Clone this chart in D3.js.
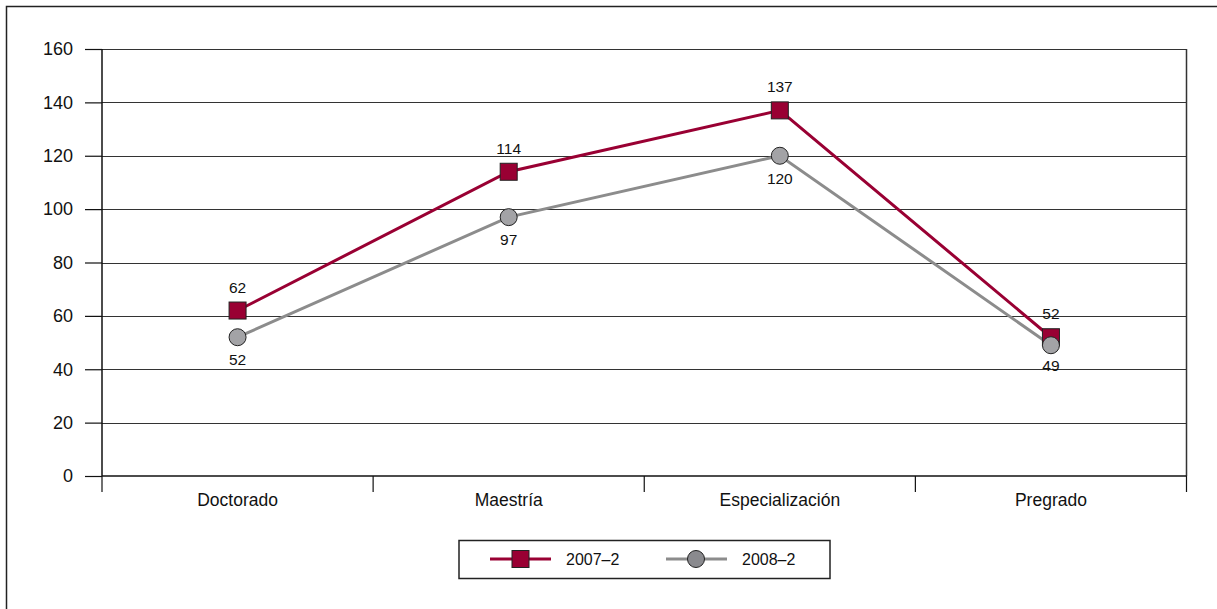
<!DOCTYPE html>
<html><head><meta charset="utf-8">
<script src="https://cdn.jsdelivr.net/npm/d3@7"></script>
<style>
body{margin:0;background:#fff;}
text{font-family:"Liberation Sans","DejaVu Sans",sans-serif;fill:#111;}
</style></head>
<body><svg id="c" width="1217" height="609"></svg>
<script>
const categories = ["Doctorado","Maestría","Especialización","Pregrado"];
const series2007 = [62,114,137,52];
const series2008 = [52,97,120,49];
const seriesNames = ["2007–2","2008–2"];
const yTicks = [0,20,40,60,80,100,120,140,160];

const svg = d3.select("#c");
const red = "#990033", grey = "#8c8c8c", greyFill = "#a3a3a6";
const m = {l:102, r:1186.5, t:49, b:476};

svg.append("rect").attr("x",6.5).attr("y",6.5).attr("width",1240).attr("height",640)
  .attr("fill","none").attr("stroke","#222").attr("stroke-width",1.5);

const x = d3.scaleBand().domain(categories).range([m.l,m.r]);
const y = d3.scaleLinear().domain([0,160]).range([m.b,m.t]);

// gridlines
svg.append("g").selectAll("line").data(yTicks.filter(d=>d>0)).join("line")
  .attr("x1",m.l).attr("x2",m.r).attr("y1",d=>Math.round(y(d))+0.5).attr("y2",d=>Math.round(y(d))+0.5)
  .attr("stroke","#333").attr("stroke-width",1.2);
// right border
svg.append("line").attr("x1",m.r).attr("x2",m.r).attr("y1",m.t).attr("y2",m.b)
  .attr("stroke","#333").attr("stroke-width",1.5);

// y axis
const ya = svg.append("g").attr("transform",`translate(${m.l},0)`)
  .call(d3.axisLeft(y).tickValues(yTicks).tickSize(17).tickPadding(12));
ya.select(".domain").attr("stroke","#111").attr("stroke-width",1.5).attr("d",`M0,${m.t}V${m.b}`);
ya.selectAll(".tick line").attr("stroke","#111").attr("stroke-width",1.2);
ya.selectAll(".tick text").attr("font-size",18).attr("fill","#111")
  .attr("font-family","'Liberation Sans',sans-serif");

// x axis
const xa = svg.append("g").attr("transform",`translate(0,${m.b})`)
  .call(d3.axisBottom(x).tickSize(0).tickPadding(18));
xa.select(".domain").attr("stroke","#111").attr("stroke-width",1.5).attr("d",`M${m.l},0H${m.r}`);
xa.selectAll(".tick text").attr("font-size",17.5).attr("fill","#111")
  .attr("font-family","'Liberation Sans',sans-serif");
const bounds = categories.map(c=>x(c)).concat([m.r]);
svg.append("g").selectAll("line").data(bounds).join("line")
  .attr("x1",d=>d).attr("x2",d=>d).attr("y1",m.b).attr("y2",m.b+16)
  .attr("stroke","#111").attr("stroke-width",1.2);

const cx = c => x(c)+x.bandwidth()/2;
const line = d3.line().x((d,i)=>cx(categories[i])).y(d=>y(d));

svg.append("path").datum(series2008).attr("d",line).attr("fill","none").attr("stroke",grey).attr("stroke-width",3);
svg.append("path").datum(series2007).attr("d",line).attr("fill","none").attr("stroke",red).attr("stroke-width",3);

// squares 2007
svg.append("g").selectAll("rect").data(series2007).join("rect")
  .attr("x",(d,i)=>cx(categories[i])-8.5).attr("y",d=>y(d)-8.5).attr("width",17).attr("height",17)
  .attr("fill",red).attr("stroke","#222").attr("stroke-width",1);
// circles 2008
svg.append("g").selectAll("circle").data(series2008).join("circle")
  .attr("cx",(d,i)=>cx(categories[i])).attr("cy",d=>y(d)).attr("r",8.5)
  .attr("fill",greyFill).attr("stroke","#222").attr("stroke-width",1);

// value labels
svg.append("g").selectAll("text").data(series2007).join("text")
  .attr("x",(d,i)=>cx(categories[i])).attr("y",d=>y(d)-18).attr("text-anchor","middle")
  .attr("font-size",15.5).text(d=>d);
svg.append("g").selectAll("text").data(series2008).join("text")
  .attr("x",(d,i)=>cx(categories[i])).attr("y",(d,i)=>y(d)+(i===3?26:28)).attr("text-anchor","middle")
  .attr("font-size",15.5).text(d=>d);

// legend
const lg = svg.append("g");
lg.append("rect").attr("x",459).attr("y",540.5).attr("width",371).attr("height",38)
  .attr("fill","#fff").attr("stroke","#222").attr("stroke-width",1.5);
const ly = 559;
lg.append("line").attr("x1",490).attr("x2",551).attr("y1",ly).attr("y2",ly).attr("stroke",red).attr("stroke-width",3);
lg.append("rect").attr("x",512).attr("y",ly-8.5).attr("width",17).attr("height",17).attr("fill",red).attr("stroke","#222");
lg.append("text").attr("x",566).attr("y",ly+5.5).attr("font-size",16).text(seriesNames[0]);
lg.append("line").attr("x1",666).attr("x2",727).attr("y1",ly).attr("y2",ly).attr("stroke",grey).attr("stroke-width",3);
lg.append("circle").attr("cx",696).attr("cy",ly).attr("r",8.5).attr("fill","#8a8a8e").attr("stroke","#222");
lg.append("text").attr("x",742).attr("y",ly+5.5).attr("font-size",16).text(seriesNames[1]);
</script></body></html>
